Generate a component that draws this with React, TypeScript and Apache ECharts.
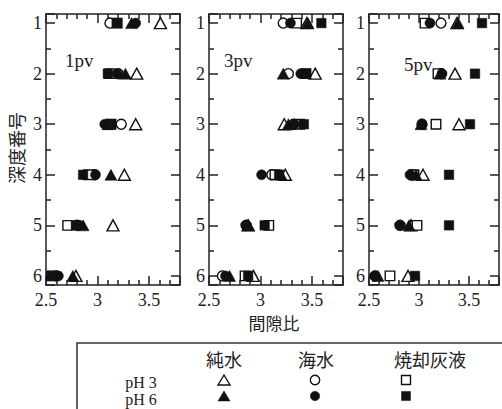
import React, { useEffect, useRef } from 'react';
import * as echarts from 'echarts';

// ---- data ----
const depths = [1, 2, 3, 4, 5, 6];
const panelNames = ['1pv', '3pv', '5pv'];
const xTickLabels = ['2.5', '3', '3.5'];
const yTickLabels = ['1', '2', '3', '4', '5', '6'];
const mediumNames = ['純水', '海水', '焼却灰液'];
const phNames = ['pH 3', 'pH 6'];

// 1pv
const pv1PureWaterPH3 = [3.61, 3.38, 3.37, 3.26, 3.15, 2.79];
const pv1SeawaterPH3 = [3.12, 3.2, 3.23, 2.97, 2.8, 2.6];
const pv1AshPH3 = [3.19, 3.12, 3.13, 2.91, 2.71, 2.56];
const pv1PureWaterPH6 = [3.33, 3.27, 3.1, 3.13, 2.86, 2.76];
const pv1SeawaterPH6 = [3.37, 3.19, 3.07, 2.98, 2.82, 2.62];
const pv1AshPH6 = [3.19, 3.1, 3.13, 2.86, 2.79, 2.55];

// 3pv
const pv3PureWaterPH3 = [3.45, 3.53, 3.23, 3.24, 2.88, 2.93];
const pv3SeawaterPH3 = [3.22, 3.27, 3.32, 3.11, 2.86, 2.63];
const pv3AshPH3 = [3.35, 3.44, 3.38, 3.14, 3.08, 2.85];
const pv3PureWaterPH6 = [3.46, 3.22, 3.27, 3.2, 2.88, 2.7];
const pv3SeawaterPH6 = [3.29, 3.39, 3.33, 3.01, 2.86, 2.66];
const pv3AshPH6 = [3.59, 3.44, 3.42, 3.18, 3.04, 2.88];

// 5pv
const pv5PureWaterPH3 = [3.38, 3.36, 3.4, 3.04, 2.92, 2.89];
const pv5SeawaterPH3 = [3.22, 3.22, 3.03, 2.93, 2.81, 2.56];
const pv5AshPH3 = [3.06, 3.19, 3.17, 2.95, 2.98, 2.71];
const pv5PureWaterPH6 = [3.39, 3.21, 3.02, 2.97, 2.9, 2.59];
const pv5SeawaterPH6 = [3.11, 3.23, 3.03, 2.91, 2.81, 2.56];
const pv5AshPH6 = [3.63, 3.56, 3.51, 3.3, 3.3, 2.96];

const panelData = [
  [pv1PureWaterPH3, pv1SeawaterPH3, pv1AshPH3, pv1PureWaterPH6, pv1SeawaterPH6, pv1AshPH6],
  [pv3PureWaterPH3, pv3SeawaterPH3, pv3AshPH3, pv3PureWaterPH6, pv3SeawaterPH6, pv3AshPH6],
  [pv5PureWaterPH3, pv5SeawaterPH3, pv5AshPH3, pv5PureWaterPH6, pv5SeawaterPH6, pv5AshPH6],
];

// ---- styles / layout ----
const INK = '#222';
const MARK = '#111';
const SERIF = 'Liberation Serif';
const CJK = 'Noto Sans CJK JP';
const gridLefts = [46, 209, 369];
const gridTop = 14;
const gridW = 134;
const gridH = 271;
const panelLabelPos = [
  [65, 60],
  [224, 60],
  [404, 64],
];

const kinds = [
  { symbol: 'triangle', size: [12, 11], filled: false },
  { symbol: 'circle', size: 10, filled: false },
  { symbol: 'rect', size: 9.5, filled: false },
  { symbol: 'triangle', size: [12, 11], filled: true },
  { symbol: 'circle', size: 10, filled: true },
  { symbol: 'rect', size: 9.5, filled: true },
];

const lineStyle = { color: INK, width: 1.5 };

function xFormatter(v: number) {
  const s = xTickLabels.find((t) => Math.abs(parseFloat(t) - v) < 1e-9);
  return s ?? '';
}
function yFormatter(v: number) {
  const s = yTickLabels.find((t) => Math.abs(parseFloat(t) - v) < 1e-9);
  return s ?? '';
}

function buildOption() {
  const grid = gridLefts.map((l) => ({ left: l, top: gridTop, width: gridW, height: gridH }));
  const xBase = (p: number, position: 'bottom' | 'top') => ({
    gridIndex: p,
    type: 'value',
    position,
    min: 2.5,
    max: 3.8,
    minInterval: 0.5,
    maxInterval: 0.5,
    axisLine: { show: true, onZero: false, lineStyle },
    axisTick: { show: true, inside: true, length: 9, lineStyle },
    minorTick: { show: true, splitNumber: 5, length: 5, lineStyle },
    splitLine: { show: false },
    minorSplitLine: { show: false },
    axisLabel: {
      show: position === 'bottom',
      margin: 6,
      fontSize: 18,
      fontFamily: SERIF,
      color: INK,
      formatter: xFormatter,
    },
  });
  const yBase = (p: number, position: 'left' | 'right') => ({
    gridIndex: p,
    type: 'value',
    position,
    inverse: true,
    min: 0.82,
    max: 6.18,
    minInterval: 1,
    maxInterval: 1,
    axisLine: { show: true, onZero: false, lineStyle },
    axisTick: { show: true, inside: true, length: 9, lineStyle },
    minorTick: { show: true, splitNumber: 2, length: 5, lineStyle },
    splitLine: { show: false },
    minorSplitLine: { show: false },
    axisLabel: {
      show: position === 'left',
      margin: 4,
      fontSize: 18,
      fontFamily: SERIF,
      color: INK,
      formatter: yFormatter,
    },
  });

  const xAxis = [
    ...panelNames.map((_, p) => xBase(p, 'bottom')),
    ...panelNames.map((_, p) => xBase(p, 'top')),
  ];
  const yAxis = [
    ...panelNames.map((_, p) => yBase(p, 'left')),
    ...panelNames.map((_, p) => yBase(p, 'right')),
  ];

  const series: any[] = [];
  panelData.forEach((sets, p) => {
    sets.forEach((vals, k) => {
      const kind = kinds[k];
      series.push({
        type: 'scatter',
        name: `${panelNames[p]} ${mediumNames[k % 3]} ${phNames[Math.floor(k / 3)]}`,
        xAxisIndex: p,
        yAxisIndex: p,
        symbol: kind.symbol,
        symbolSize: kind.size,
        silent: true,
        itemStyle: kind.filled
          ? { color: MARK, borderColor: MARK, borderWidth: 0.5, opacity: 1 }
          : { color: '#fff', borderColor: MARK, borderWidth: 1.4, opacity: 1 },
        data: depths.map((d, i) => [vals[i], d]),
      });
    });
  });

  const graphic: any[] = [];
  panelNames.forEach((name, p) => {
    graphic.push({
      type: 'text',
      x: panelLabelPos[p][0],
      y: panelLabelPos[p][1],
      style: { text: name, fontSize: 19, fontFamily: SERIF, fill: INK, textAlign: 'left', textVerticalAlign: 'middle' },
    });
  });
  graphic.push({
    type: 'text',
    x: 274,
    y: 322,
    style: { text: '間隙比', fontSize: 17, fontFamily: CJK, fill: INK, textAlign: 'center', textVerticalAlign: 'middle' },
  });
  graphic.push({
    type: 'text',
    x: 16,
    y: 148,
    rotation: Math.PI / 2,
    style: { text: '深度番号', fontSize: 18, fontFamily: CJK, fill: INK, textAlign: 'center', textVerticalAlign: 'middle' },
  });

  // legend box
  graphic.push({
    type: 'rect',
    shape: { x: 77, y: 343, width: 440, height: 100 },
    style: { fill: 'none', stroke: '#333', lineWidth: 1.5 },
  });
  const headerX = [224, 316, 430];
  mediumNames.forEach((m, i) => {
    graphic.push({
      type: 'text',
      x: headerX[i],
      y: 359,
      style: { text: m, fontSize: 18, fontFamily: CJK, fill: INK, textAlign: 'center', textVerticalAlign: 'middle' },
    });
  });
  const textY = [382, 399];
  const symY = [380, 396];
  phNames.forEach((ph, r) => {
    graphic.push({
      type: 'text',
      x: 141,
      y: textY[r],
      style: { text: ph, fontSize: 16, fontFamily: SERIF, fill: INK, textAlign: 'center', textVerticalAlign: 'middle' },
    });
    const filled = r === 1;
    const st = filled
      ? { fill: MARK, stroke: MARK, lineWidth: 0.5 }
      : { fill: '#fff', stroke: MARK, lineWidth: 1.4 };
    const y = symY[r];
    graphic.push({
      type: 'polygon',
      shape: { points: [[headerX[0] - 6, y + 5], [headerX[0] + 6, y + 5], [headerX[0], y - 5]] },
      style: st,
    });
    graphic.push({ type: 'circle', shape: { cx: 315, cy: y, r: 4.7 }, style: st });
    graphic.push({ type: 'rect', shape: { x: 406 - 4.5, y: y - 4.5, width: 9, height: 9 }, style: st });
  });

  return {
    animation: false,
    backgroundColor: '#fff',
    grid,
    xAxis,
    yAxis,
    series,
    graphic,
  };
}

export default function App() {
  const ref = useRef<HTMLDivElement>(null);
  useEffect(() => {
    if (!ref.current) return;
    const chart = echarts.init(ref.current, undefined, { renderer: 'svg' });
    chart.setOption(buildOption() as any);
    return () => chart.dispose();
  }, []);
  return (
    <div
      ref={ref}
      style={{ position: 'fixed', left: 0, top: 0, width: 502, height: 409, background: '#fff' }}
    />
  );
}
